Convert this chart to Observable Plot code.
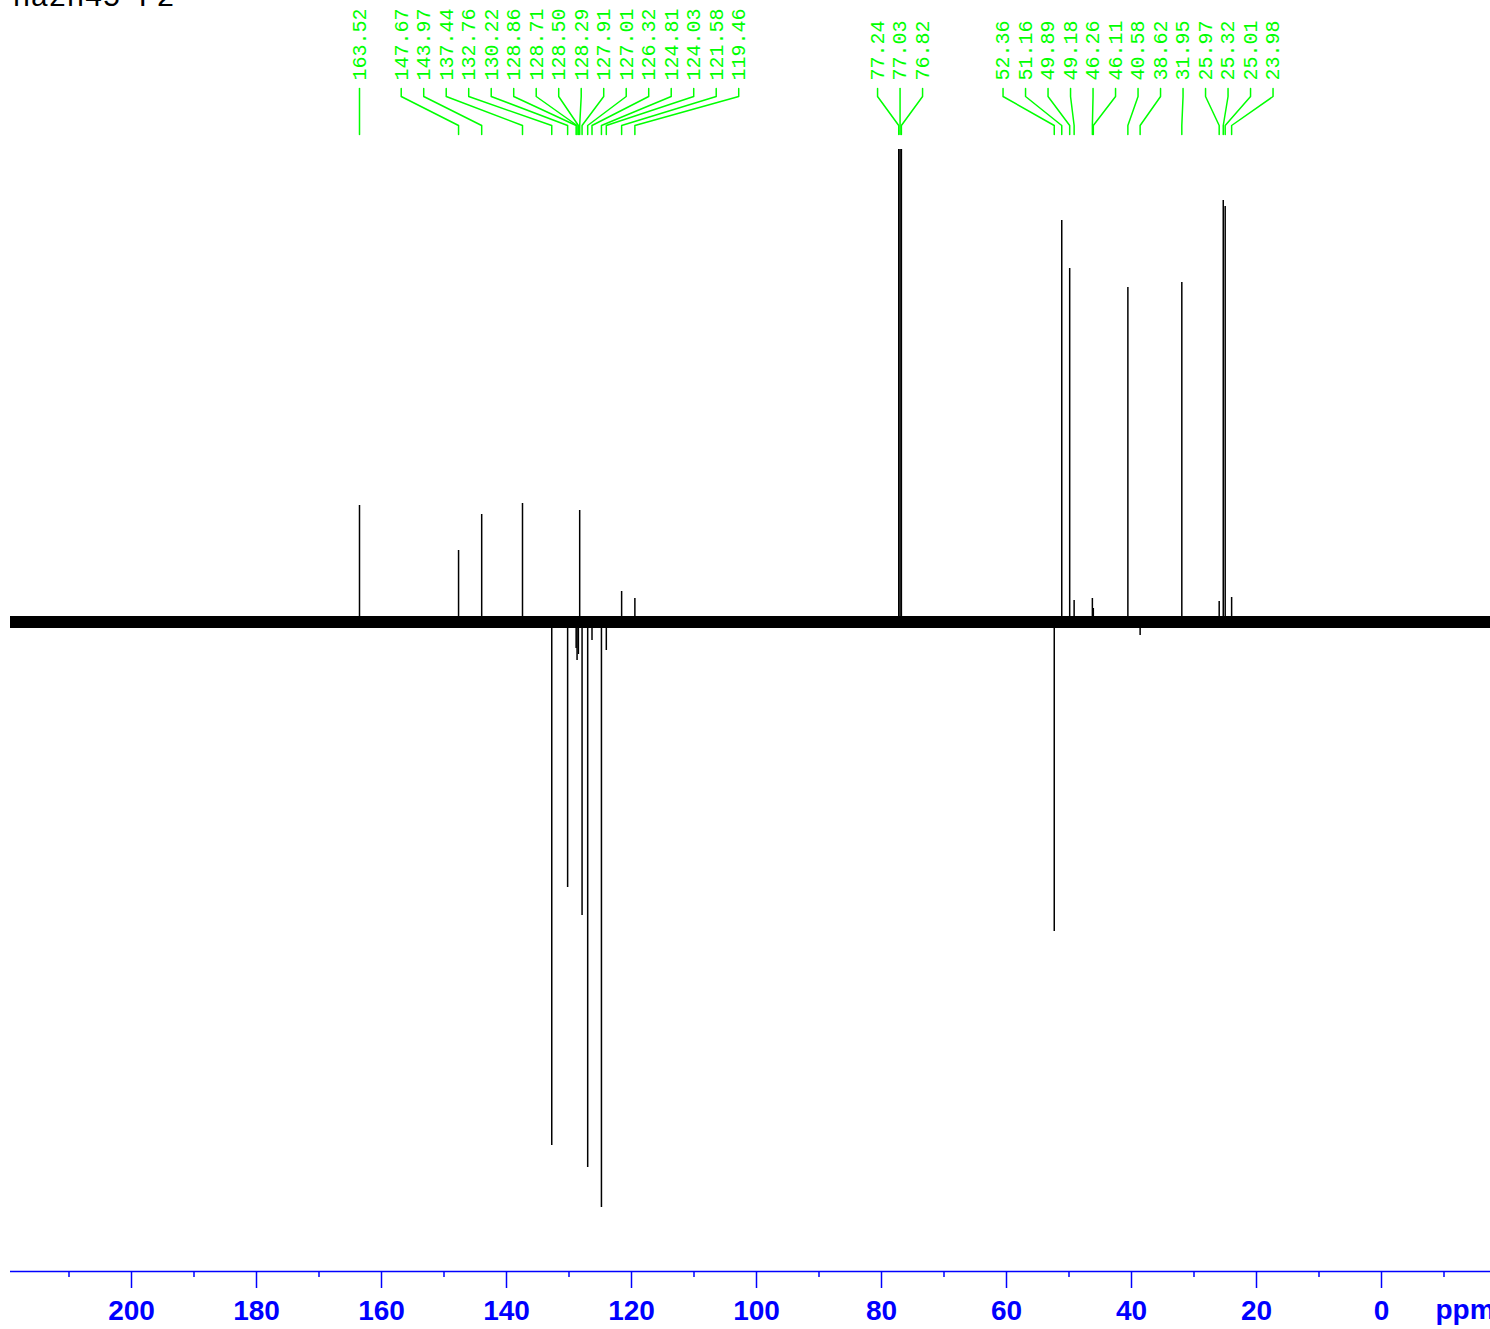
<!DOCTYPE html>
<html>
<head>
<meta charset="utf-8">
<script src="https://cdn.jsdelivr.net/npm/d3@7"></script>
<script src="https://cdn.jsdelivr.net/npm/@observablehq/plot@0.6"></script>
<style>
  html, body { margin: 0; padding: 0; background: #fff; }
  #chart svg { display: block; }
</style>
</head>
<body>
<div id="chart"></div>
<script>
// ---- Data ----
const title = "nazh45 F2";
const axisUnit = "ppm";
// labelled peak positions (ppm)
const peakPpm = [163.52, 147.67, 143.97, 137.44, 132.76, 130.22, 128.86, 128.71, 128.50, 128.29,
  127.91, 127.01, 126.32, 124.81, 124.03, 121.58, 119.46,
  77.24, 77.03, 76.82,
  52.36, 51.16, 49.89, 49.18, 46.26, 46.11, 40.58, 38.62, 31.95, 25.97, 25.32, 25.01, 23.98];
// peak intensities (arbitrary units, + up / - down)
const peakIntensity = [11.7, 7.2, 10.8, 11.9, -52.3, -26.5, -2.6, -3.8, -3.2, 11.2,
  -29.3, -54.5, -1.8, -58.5, -2.8, 3.1, 2.4,
  47.3, 47.3, 47.3,
  -30.9, 40.2, 35.4, 2.2, 2.4, 1.4, 33.5, -1.3, 34.0, 2.1, 42.2, 41.6, 2.5];
const noiseLevel = 0.6;            // baseline noise half-width
const majorTicks = [0, 20, 40, 60, 80, 100, 120, 140, 160, 180, 200];
const minorTicks = [-10, 10, 30, 50, 70, 90, 110, 130, 150, 170, 190, 210];
const xDomain = [219.36, -17.44];  // ppm, reversed
const yDomain = [-64.9, 62.2];

// ---- Label spreading (layout) ----
const labelSpacing = 3.6; // ppm between adjacent labels
function spreadLabels(ppms) {
  const order = ppms.map((p, i) => i).sort((a, b) => ppms[b] - ppms[a]);
  let clusters = order.map(i => ({members: [i], center: ppms[i]}));
  const pos = c => c.members.map((m, k) => c.center + ((c.members.length - 1) / 2 - k) * labelSpacing);
  let changed = true;
  while (changed) {
    changed = false;
    for (let j = 0; j < clusters.length - 1; j++) {
      const a = clusters[j], b = clusters[j + 1];
      const pa = pos(a), pb = pos(b);
      if (pa[pa.length - 1] - pb[0] < labelSpacing) {
        const members = a.members.concat(b.members);
        clusters.splice(j, 2, {members, center: d3.mean(members, m => ppms[m])});
        changed = true;
        break;
      }
    }
  }
  const out = new Array(ppms.length);
  for (const c of clusters) pos(c).forEach((p, k) => out[c.members[k]] = p);
  return out;
}
const labelPos = spreadLabels(peakPpm);

const peaks = peakPpm.map((p, i) => ({ppm: p, intensity: peakIntensity[i], label: labelPos[i], text: p.toFixed(2)}));

// connector vertical levels (in y units)
const yTextBase = 54.2, yA = 53.4, yB = 52.6, yC = 49.7, yD = 48.8;
const connectors = peaks.flatMap(d => [
  {id: d.text, x: d.label, y: yA},
  {id: d.text, x: d.label, y: yB},
  {id: d.text, x: d.ppm, y: yC},
  {id: d.text, x: d.ppm, y: yD}
]);

const blue = "#0000ff";
const green = "#00ff00";

const chart = Plot.plot({
  width: 1490,
  height: 1329,
  marginLeft: 10,
  marginRight: 0,
  marginTop: 0,
  marginBottom: 58,
  style: {background: "#fff", overflow: "visible"},
  x: {domain: xDomain, axis: null},
  y: {domain: yDomain, axis: null},
  marks: [
    // baseline noise band
    Plot.rect([noiseLevel], {x1: () => xDomain[0], x2: () => xDomain[1], y1: d => -d, y2: d => d, fill: "#000"}),
    // peaks
    Plot.ruleX(peaks, {x: "ppm", y1: () => 0, y2: "intensity", stroke: "#000", strokeWidth: 1.5}),
    // peak label connectors
    Plot.line(connectors, {x: "x", y: "y", z: "id", stroke: green, strokeWidth: 1.5, curve: "linear"}),
    Plot.text(peaks, {x: "label", y: () => yTextBase, text: "text", rotate: -90, textAnchor: "start",
      lineAnchor: "middle", fill: green, fontSize: 20, fontFamily: "Liberation Mono, monospace"}),
    // axis
    Plot.ruleY([yDomain[0]], {stroke: blue, strokeWidth: 1.5}),
    Plot.axisX({ticks: minorTicks, tickSize: 6, tickFormat: () => "", stroke: blue, strokeWidth: 1.5}),
    Plot.axisX({ticks: majorTicks, tickSize: 17, tickPadding: 12, tickFormat: d => String(d), stroke: blue, strokeWidth: 1.5,
      fill: blue, fontSize: 28, fontWeight: "bold", fontFamily: "Liberation Sans, Arial, sans-serif", label: null}),
    Plot.text([axisUnit], {frameAnchor: "bottom-right", dx: -55, dy: 39, textAnchor: "start", lineAnchor: "middle",
      fill: blue, fontSize: 28, fontWeight: "bold", fontFamily: "Liberation Sans, Arial, sans-serif"}),
    Plot.text([title], {frameAnchor: "top-left", dx: 2, dy: -4, textAnchor: "start", lineAnchor: "middle",
      fill: "#000", fontSize: 30, fontFamily: "Liberation Mono, monospace"})
  ]
});
document.getElementById("chart").appendChild(chart);
</script>
</body>
</html>
